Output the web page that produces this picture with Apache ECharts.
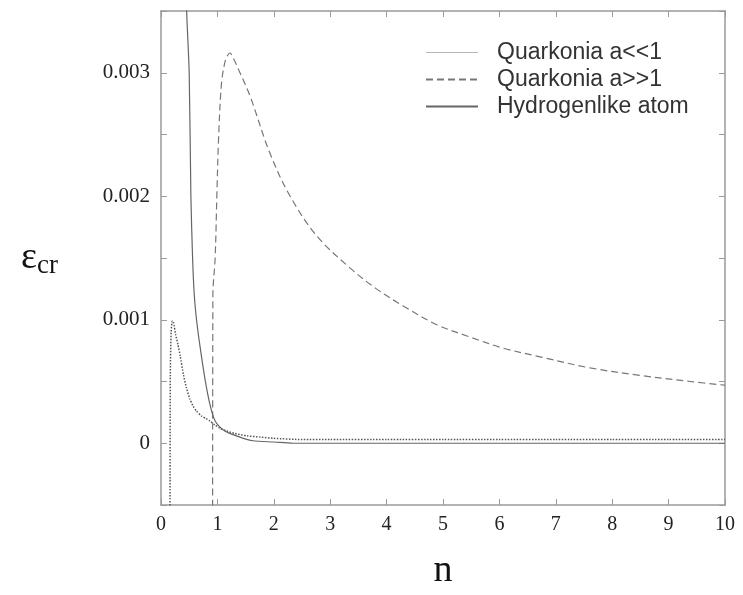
<!DOCTYPE html>
<html>
<head>
<meta charset="utf-8">
<script src="https://cdn.jsdelivr.net/npm/echarts@6/dist/echarts.min.js"></script>
<style>
html,body{margin:0;padding:0;background:#fff;}
#main{width:743px;height:595px;}
</style>
</head>
<body>
<div id="main"></div>
<script>
// ---- data ----
const seriesNames = ['Quarkonia a<<1', 'Quarkonia a>>1', 'Hydrogenlike atom'];
const xTicks = [0, 1, 2, 3, 4, 5, 6, 7, 8, 9, 10];
const yTickLabels = [0, 0.001, 0.002, 0.003];

// Quarkonia a<<1 (dotted)
const nSmallA = [0.16, 0.165, 0.18, 0.2, 0.22, 0.26, 0.3, 0.34, 0.4, 0.45, 0.51, 0.57, 0.63, 0.72, 0.8, 0.87, 0.95, 1.05, 1.16, 1.3, 1.52, 1.76, 2.0, 2.5, 3, 4, 5, 6, 7, 8, 9, 10];
const eSmallA = [-0.0006, 0.00055, 0.0009, 0.00099, 0.00098, 0.00088, 0.0008, 0.00071, 0.00055, 0.00045, 0.00036, 0.0003, 0.00026, 0.00022, 0.0002, 0.00018, 0.00015, 0.00012, 0.0001, 0.00008, 0.00006, 0.00005, 0.00004, 0.00003, 0.00003, 0.00003, 0.00003, 0.00003, 0.00003, 0.00003, 0.00003, 0.00003];

// Quarkonia a>>1 (dashed)
const nLargeA = [0.915, 0.92, 0.96, 0.99, 1.02, 1.07, 1.13, 1.18, 1.22, 1.28, 1.4, 1.58, 1.93, 2.29, 2.76, 3.35, 3.82, 4.3, 4.89, 5.48, 6.07, 6.72, 7.61, 8.49, 9.38, 10];
const eLargeA = [-0.0006, 0.0012, 0.0015, 0.002, 0.00246, 0.0029, 0.00308, 0.00314, 0.00316, 0.00312, 0.0030, 0.00281, 0.00235, 0.0020, 0.00168, 0.00142, 0.00125, 0.00111, 0.00096, 0.00086, 0.00077, 0.0007, 0.00061, 0.00055, 0.0005, 0.00047];

// Hydrogenlike atom (solid)
const nHyd = [0.44, 0.455, 0.5, 0.53, 0.56, 0.59, 0.63, 0.69, 0.78, 0.87, 0.96, 1.13, 1.4, 1.63, 2.0, 2.34, 3, 4, 5, 6, 7, 8, 9, 10];
const eHyd = [0.0040, 0.0035, 0.003, 0.002, 0.0015, 0.0012, 0.001, 0.00079, 0.00052, 0.00031, 0.00018, 0.0001, 0.00005, 0.00002, 0.00001, 0, 0, 0, 0, 0, 0, 0, 0, 0];

const pairs = (xs, ys) => xs.map((x, i) => [x, ys[i]]);

const chart = echarts.init(document.getElementById('main'), null, {renderer: 'canvas'});
const boxColor = '#9a9a9a';
const serif = "'Liberation Serif', 'DejaVu Serif', serif";
const sans = "'Liberation Sans', Arial, sans-serif";
const baseX = {
  type: 'value', min: 0, max: 10, interval: 1,
  axisLine: {show: true, onZero: false, lineStyle: {color: boxColor, width: 1.5}},
  axisTick: {show: true, inside: true, length: 6, lineStyle: {color: boxColor}},
  splitLine: {show: false}
};
const baseY = {
  type: 'value', min: -0.0005, max: 0.0035, interval: 0.0005,
  axisLine: {show: true, onZero: false, lineStyle: {color: boxColor, width: 1.5}},
  axisTick: {show: true, inside: true, length: 6, lineStyle: {color: boxColor}},
  splitLine: {show: false}
};

chart.setOption({
  backgroundColor: '#fff',
  animation: false,
  color: ['#555', '#777', '#666'],
  grid: {left: 161, right: 18, top: 11, bottom: 88, containLabel: false},
  legend: {
    show: true,
    orient: 'vertical', left: 420, top: 36,
    itemWidth: 52, itemHeight: 10, itemGap: 4,
    itemStyle: {opacity: 0},
    formatter: name => '{t|' + name + '}',
    textStyle: {
      fontFamily: sans, fontSize: 23, color: '#333',
      rich: {t: {fontFamily: sans, fontSize: 23, color: '#333', lineHeight: 24, padding: [0, 0, 0, 14]}}
    },
    data: [
      {name: seriesNames[0], lineStyle: {type: 'solid', color: '#b5b5b5', width: 1}},
      {name: seriesNames[1]},
      {name: seriesNames[2]}
    ]
  },
  xAxis: [
    Object.assign({}, baseX, {
      position: 'bottom',
      axisLabel: {show: true, margin: 10, fontFamily: serif, fontSize: 20, color: '#222', formatter: v => xTicks.includes(v) ? String(v) : ''},
      name: 'n', nameLocation: 'middle', nameGap: 47,
      nameTextStyle: {fontFamily: serif, fontSize: 38, color: '#111'}
    }),
    Object.assign({}, baseX, {position: 'top', axisLabel: {show: false}})
  ],
  yAxis: [
    Object.assign({}, baseY, {
      position: 'left',
      axisLabel: {
        show: true, margin: 11, fontFamily: serif, fontSize: 21, color: '#222',
        formatter: v => {
          const hit = yTickLabels.find(t => Math.abs(t - v) < 1e-9);
          return hit === undefined ? '' : String(hit);
        }
      },
      name: '{e|ε}{s|cr}', nameLocation: 'middle', nameRotate: 0, nameGap: 103,
      nameTextStyle: {
        rich: {
          e: {fontFamily: serif, fontSize: 38, color: '#111'},
          s: {fontFamily: serif, fontSize: 27, color: '#111', padding: [16, 0, 0, 0]}
        }
      }
    }),
    Object.assign({}, baseY, {position: 'right', axisLabel: {show: false}})
  ],
  series: [
    {
      name: seriesNames[0], type: 'line', symbol: 'none', clip: true, smooth: 0.2,
      data: pairs(nSmallA, eSmallA),
      itemStyle: {color: '#555'},
      lineStyle: {color: '#555', width: 1.5, type: 'dotted'}
    },
    {
      name: seriesNames[1], type: 'line', symbol: 'none', clip: true, smooth: 0.35,
      data: pairs(nLargeA, eLargeA),
      itemStyle: {color: '#777'},
      lineStyle: {color: '#777', width: 1.2, type: [7, 4]}
    },
    {
      name: seriesNames[2], type: 'line', symbol: 'none', clip: true, smooth: 0.25,
      data: pairs(nHyd, eHyd),
      itemStyle: {color: '#666'},
      lineStyle: {color: '#666', width: 1.2, type: 'solid'}
    }
  ]
});
</script>
</body>
</html>
